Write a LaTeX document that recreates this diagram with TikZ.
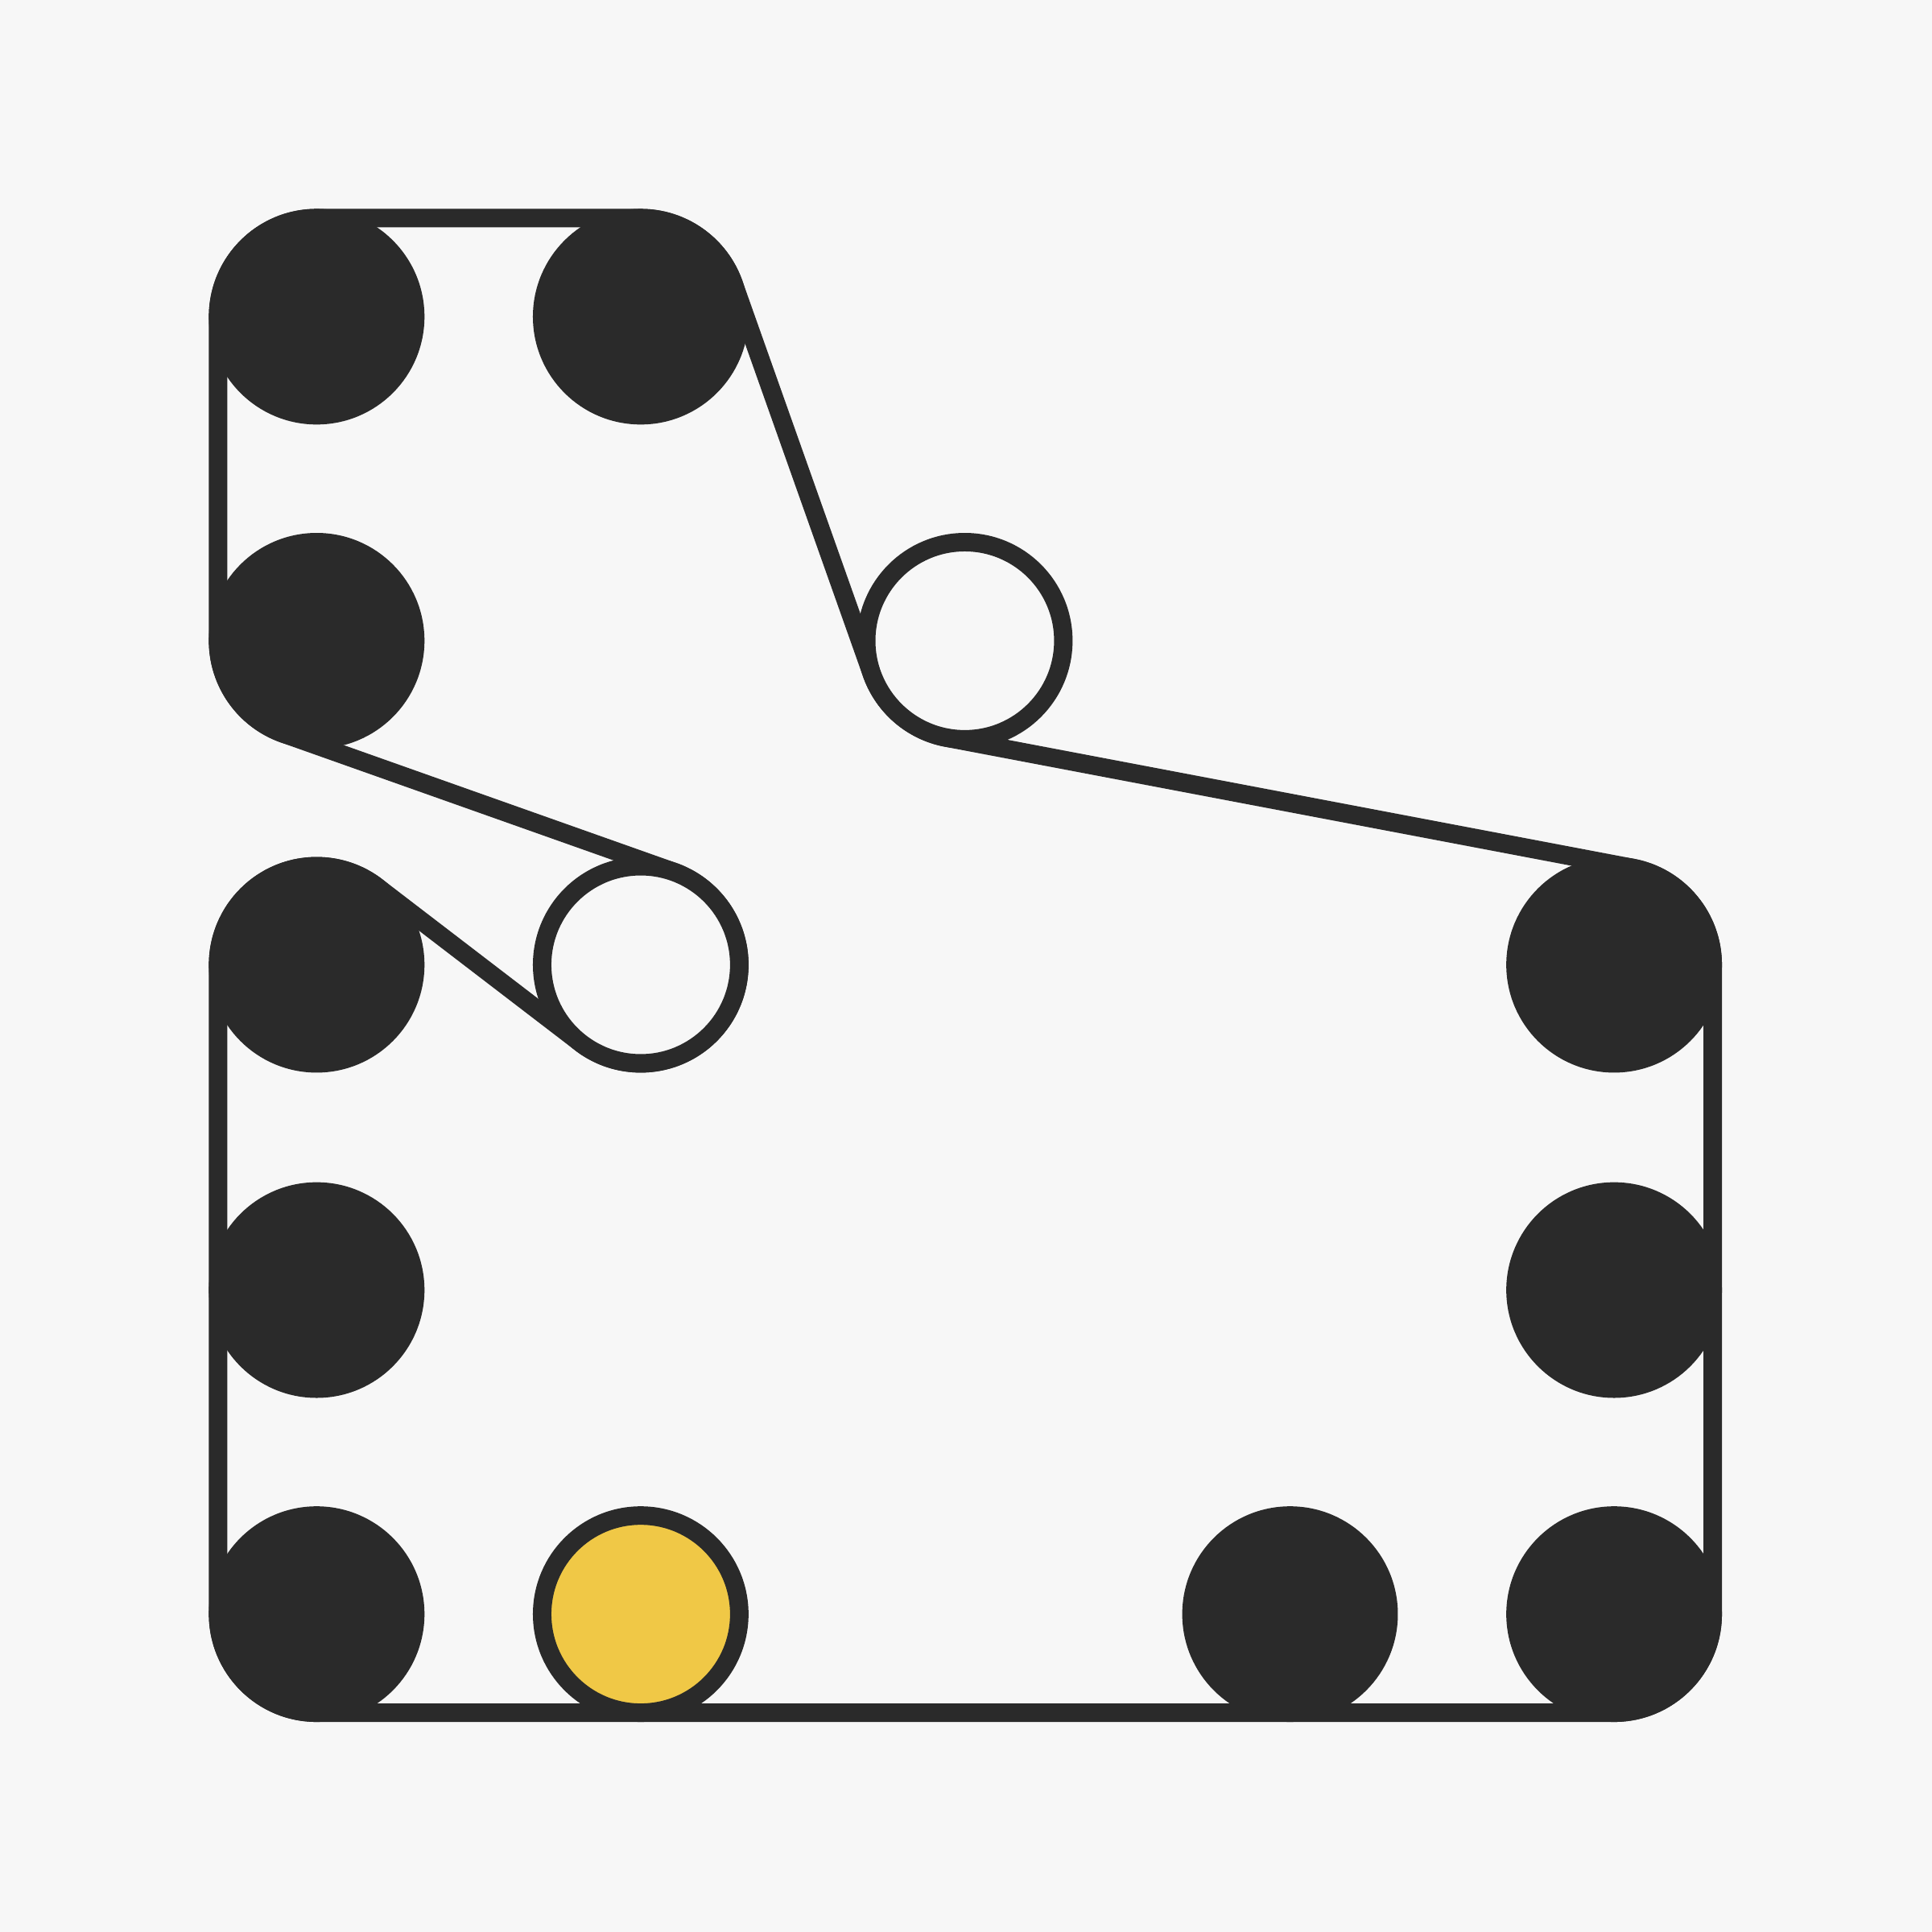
\documentclass[tikz,border=0pt]{standalone}
\definecolor{bg}{HTML}{F7F7F7}
\definecolor{ink}{HTML}{2A2A2A}
\definecolor{gold}{HTML}{F0C846}
\begin{document}
\begin{tikzpicture}[x=0.01cm,y=-0.01cm,line width=0.15cm,
  pulley/.style={draw=ink,fill=ink},
  idler/.style={draw=ink,fill=bg},
  drive/.style={draw=ink,fill=gold},
  belt/.style={draw=ink,line join=round}]
\fill[bg] (0,0) rectangle (1568,1568);
\useasboundingbox (0,0) rectangle (1568,1568);
% pulley centres
\coordinate (A) at (257,257);
\coordinate (B) at (520,257);
\coordinate (C) at (783,520);
\coordinate (D) at (1310,783);
\coordinate (D2) at (1310,1047);
\coordinate (E) at (1310,1310);
\coordinate (K) at (1047,1310);
\coordinate (Y) at (520,1310);
\coordinate (F) at (257,1310);
\coordinate (F2) at (257,1047);
\coordinate (G) at (257,783);
\coordinate (H) at (520,783);
\coordinate (I) at (257,520);
% belt
\draw[belt] (177,257) arc[start angle=180,end angle=270,radius=80]
  -- (520,177) arc[start angle=-90,end angle=-19.55,radius=80]
  -- (707.6,546.8) arc[start angle=160.45,end angle=100.79,radius=80]
  -- (1325,704.4) arc[start angle=-79.21,end angle=0,radius=80]
  -- (1390,1310) arc[start angle=0,end angle=90,radius=80]
  -- (257,1390) arc[start angle=90,end angle=180,radius=80]
  -- (177,783) arc[start angle=180,end angle=307.43,radius=80]
  -- (471.4,846.5) arc[start angle=127.43,end angle=-70.45,radius=80]
  -- (230.2,595.4) arc[start angle=109.55,end angle=180,radius=80]
  -- cycle;
% pulleys
\foreach \p in {A,B,D,D2,E,K,F,F2,G,I}
  \draw[pulley] (\p) circle[radius=80];
\draw[idler] (C) circle[radius=80];
\draw[idler] (H) circle[radius=80];
\draw[drive] (Y) circle[radius=80];
\end{tikzpicture}
\end{document}
